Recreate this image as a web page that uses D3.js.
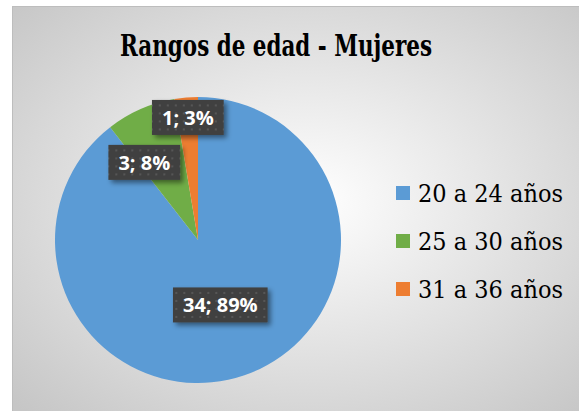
<!DOCTYPE html>
<html>
<head>
<meta charset="utf-8">
<script src="https://cdn.jsdelivr.net/npm/d3@7"></script>
<style>
	html, body { margin: 0; padding: 0; background: #ffffff; }
	svg { display: block; }
	.serif { font-family: "DejaVu Serif", serif; }
	.lbltxt { font-family: "Open Sans", sans-serif; font-weight: bold; }
</style>
</head>
<body>
<svg id="chart"></svg>
<script>
	var title = "Rangos de edad - Mujeres";
	var categories = ["20 a 24 años", "25 a 30 años", "31 a 36 años"];
	var values = [34, 3, 1];
	var percents = ["89%", "8%", "3%"];
	var colors = ["#5b9bd5", "#70ad47", "#ed7d31"];

	var width = 579, height = 411;
	// where Excel put each data label: fraction of radius, angle nudge (deg)
	var labelPlace = [{ rf: 0.48, da: 0 }, { rf: 0.66, da: -11 }, { rf: 0.86, da: 0 }];

	var svg = d3.select("#chart")
		.attr("width", width)
		.attr("height", height);

	var defs = svg.append("defs");
	var grad = defs.append("radialGradient")
		.attr("id", "bg")
		.attr("cx", 0.52).attr("cy", 0.48).attr("r", 0.72);
	grad.append("stop").attr("offset", "0%").attr("stop-color", "#ffffff");
	grad.append("stop").attr("offset", "100%").attr("stop-color", "#c6c6c6");

	var pat = defs.append("pattern")
		.attr("id", "dots")
		.attr("patternUnits", "userSpaceOnUse")
		.attr("width", 8).attr("height", 8);
	pat.append("rect").attr("width", 8).attr("height", 8).attr("fill", "#404040");
	pat.append("rect").attr("x", 3).attr("y", 3).attr("width", 2).attr("height", 2).attr("fill", "#575757");

	var shadow = defs.append("filter")
		.attr("id", "shadow")
		.attr("x", "-20%").attr("y", "-30%").attr("width", "150%").attr("height", "180%");
	shadow.append("feDropShadow")
		.attr("dx", 3).attr("dy", 3).attr("stdDeviation", 2.5)
		.attr("flood-color", "#000").attr("flood-opacity", 0.45);

	svg.append("rect")
		.attr("x", 12.5).attr("y", 6.5)
		.attr("width", width - 12).attr("height", height - 6)
		.attr("fill", "url(#bg)")
		.attr("stroke", "#bdbdbd");

	// squeeze to the width the Times face takes in the original
	svg.append("text")
		.attr("class", "serif")
		.attr("x", 276).attr("y", 56)
		.attr("text-anchor", "middle")
		.attr("font-weight", "bold")
		.attr("font-size", 29)
		.attr("textLength", 312)
		.attr("lengthAdjust", "spacingAndGlyphs")
		.attr("fill", "#000")
		.text(title);

	var cx = 198, cy = 240, radius = 143;
	var pie = d3.pie().sort(null).value(function(d) { return d; });
	var arcs = pie(values);
	var arc = d3.arc().innerRadius(0).outerRadius(radius);

	var g = svg.append("g").attr("transform", "translate(" + cx + "," + cy + ")");
	g.selectAll("path.slice")
		.data(arcs)
		.enter().append("path")
		.attr("class", "slice")
		.attr("d", arc)
		.attr("fill", function(d, i) { return colors[i]; });

	var labels = g.selectAll("g.lbl")
		.data(arcs)
		.enter().append("g")
		.attr("class", "lbl")
		.attr("transform", function(d, i) {
			var p = labelPlace[i];
			var a = (d.startAngle + d.endAngle) / 2 + p.da * Math.PI / 180;
			var r = radius * p.rf;
			return "translate(" + (Math.sin(a) * r) + "," + (-Math.cos(a) * r) + ")";
		});

	labels.each(function(d, i) {
		var sel = d3.select(this);
		var txt = sel.append("text")
			.attr("class", "lbltxt")
			.attr("text-anchor", "middle")
			.attr("dy", "0.36em")
			.attr("font-size", 20)
			.attr("fill", "#ffffff")
			.text(values[i] + "; " + percents[i]);
		var w = txt.node().getComputedTextLength() + 20, h = 35;
		sel.insert("rect", "text")
			.attr("x", -w / 2).attr("y", -h / 2)
			.attr("width", w).attr("height", h)
			.attr("fill", "url(#dots)")
			.attr("filter", "url(#shadow)");
	});

	var legend = svg.append("g").attr("transform", "translate(396,0)");
	var ly = d3.scalePoint().domain(categories).range([193, 289]);
	var items = legend.selectAll("g.item")
		.data(categories)
		.enter().append("g")
		.attr("class", "item")
		.attr("transform", function(d) { return "translate(0," + ly(d) + ")"; });
	items.append("rect")
		.attr("x", 0).attr("y", -7)
		.attr("width", 14).attr("height", 14)
		.attr("fill", function(d, i) { return colors[i]; });
	items.append("text")
		.attr("class", "serif")
		.attr("x", 22).attr("y", 9)
		.attr("font-size", 24)
		.attr("textLength", 145)
		.attr("lengthAdjust", "spacingAndGlyphs")
		.attr("fill", "#000")
		.text(function(d) { return d; });
</script>
</body>
</html>
